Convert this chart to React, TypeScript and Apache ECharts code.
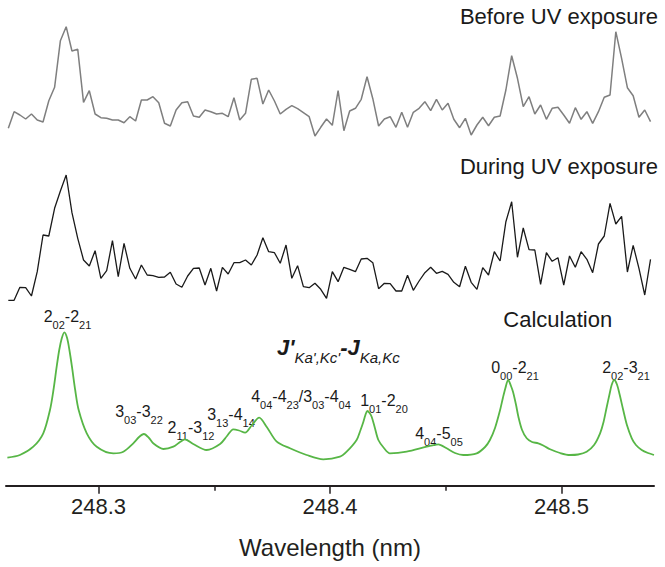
import { useEffect, useRef } from 'react';
import * as echarts from 'echarts';

const FONT = "'Liberation Sans', Arial, Helvetica, sans-serif";
const INK = '#231f20';

// measured spectra: regular wavelength grid
const wavelengthStart = 248.261; // nm
const wavelengthStep = 0.0025; // nm

// intensity (a.u.) before UV exposure
const beforeUV = [
  11.7, 28.3, 25, 21, 26, 20, 18, 39.3, 52.7, 99.3, 113.3, 89, 90.7, 37.7, 49.3, 26,
  22.3, 21.7, 20, 20, 17.3, 23.3, 19, 40, 40, 43.3, 37.3, 16.7, 14, 30, 37.3, 38.3,
  24, 22.7, 30, 28.3, 26, 26.7, 23.3, 42.3, 20, 26.7, 60.7, 61.7, 36, 50, 39, 26,
  30.7, 34.3, 31.3, 27.3, 23.3, 4, 12.7, 21, 14.7, 49.5, 9.3, 29, 31.7, 40.7, 63.3, 41.3,
  14, 21, 23.3, 12.7, 27.7, 12.7, 27.7, 31.7, 38.3, 29.3, 40.7, 30, 36.7, 20.7, 12.3, 21.7,
  5, 15, 22.7, 14.3, 22.7, 24, 50, 84.3, 61.7, 33.3, 43.3, 26, 35, 20.7, 31.7, 32.7,
  25, 16.7, 32.3, 20.7, 28.3, 16.7, 28.3, 42.7, 45, 108.3, 81.7, 52.3, 44.3, 22.7, 30, 18.3,
];

// intensity (a.u.) during UV exposure
const duringUV = [
  4.7, 4.7, 17.7, 17.3, 9, 33.3, 70, 69, 96.7, 114, 130, 92.3, 66.7, 45, 39, 54.3,
  26.7, 34.3, 64.3, 28.3, 61.7, 36.7, 26, 40, 30, 29.3, 27.7, 28, 32.7, 21, 17.7, 29,
  36.7, 37, 20, 36.7, 14, 37.7, 31, 42.3, 42.3, 45, 40, 50, 67.3, 53.3, 52.3, 41.7,
  60, 26.7, 39.3, 18.3, 17.3, 21.7, 15.7, 6.7, 33.3, 23.3, 37.7, 35.7, 33.3, 46, 46.7, 42.3,
  16.3, 21.7, 21.3, 14, 14, 29.7, 14.7, 24, 32.3, 37.7, 31.7, 33.7, 30.7, 22.7, 18.3, 38.7,
  22.7, 15.7, 37.3, 30, 53.3, 44, 83.3, 103.3, 47.7, 77, 55.3, 55, 20.7, 52.3, 43.7, 47.3,
  20, 49, 37.7, 53.3, 45.7, 32.3, 61, 69, 101.7, 81, 88.7, 33, 59.7, 36.7, 10, 45.7,
];

// calculated spectrum (wavelength nm, intensity a.u.)
const calcWavelength = [
  248.2606, 248.266, 248.2718, 248.2761, 248.279, 248.2805, 248.2819, 248.283, 248.2841,
  248.2852, 248.2864, 248.2874, 248.2885, 248.2899, 248.2914, 248.2949, 248.2992, 248.3064,
  248.3107, 248.315, 248.3175, 248.3196, 248.3218, 248.3236, 248.328, 248.3323, 248.3352,
  248.3373, 248.3409, 248.3467, 248.3525, 248.3555, 248.3582, 248.3607, 248.3633, 248.3663,
  248.3694, 248.3726, 248.377, 248.3827, 248.3899, 248.3971, 248.4043, 248.4072, 248.4115,
  248.4132, 248.4144, 248.4153, 248.4161, 248.4171, 248.418, 248.4194, 248.4209, 248.4233,
  248.4259, 248.4331, 248.4418, 248.4468, 248.4504, 248.454, 248.4576, 248.4634, 248.467,
  248.4691, 248.4713, 248.4735, 248.4747, 248.4758, 248.477, 248.4782, 248.4791, 248.4804,
  248.4814, 248.483, 248.485, 248.4873, 248.49, 248.4925, 248.4951, 248.4994, 248.5037,
  248.5072, 248.5109, 248.5141, 248.5167, 248.5182, 248.5196, 248.5208, 248.5217, 248.5228,
  248.524, 248.5251, 248.5267, 248.5283, 248.5304, 248.5322, 248.5347, 248.5374, 248.54,
];
const calcIntensity = [
  2.3, 5, 13.3, 26.7, 50, 70, 93.3, 110, 121.7,
  127.7, 122, 110, 93.3, 70, 50, 26.7, 13.3, 6.7,
  8.3, 16.7, 23, 26, 22, 16.7, 11, 13.3, 18,
  20.7, 16, 10, 16, 24, 30.7, 29.5, 27.3, 35,
  42.3, 33.3, 18.3, 11.7, 5, 0.7, 3.3, 8.3, 20,
  30, 38, 45, 49, 47, 43.3, 32, 20, 12,
  6.7, 8.3, 13.3, 15.7, 11.7, 7, 5, 6.7, 13,
  20, 32, 50, 62, 72, 80, 74, 68, 55,
  43.3, 30, 21.7, 18, 16.7, 14, 10.7, 7, 5,
  5.5, 8.3, 15, 26.7, 38, 53.3, 66, 75, 80,
  75.5, 66, 50, 35, 21.7, 15, 10, 7, 5,
];

const tickValues = [248.3, 248.4, 248.5];
const minorTickValues = [248.35, 248.45];

// transition assignments (rich text: m = main, s = subscript)
const transitionLabels = [
  '{m|2}{s|02}{m|-2}{s|21}',
  '{m|3}{s|03}{m|-3}{s|22}',
  '{m|2}{s|11}{m|-3}{s|12}',
  '{m|3}{s|13}{m|-4}{s|14}',
  '{m|4}{s|04}{m|-4}{s|23}{m|/3}{s|03}{m|-4}{s|04}',
  '{m|1}{s|01}{m|-2}{s|20}',
  '{m|4}{s|04}{m|-5}{s|05}',
  '{m|0}{s|00}{m|-2}{s|21}',
  '{m|2}{s|02}{m|-3}{s|21}',
];
// layout of those labels: [centre x, top y] in px
const transitionLayout = [
  [67.5, 308.2],
  [139, 403.2],
  [191, 419.8],
  [231, 406.5],
  [301, 388.2],
  [384, 392.2],
  [439, 425.8],
  [515, 359.8],
  [626, 359.8],
];

const X_MIN = 248.26;
const X_MAX = 248.54;

export default function App() {
  const ref = useRef<HTMLDivElement>(null);
  useEffect(() => {
    if (!ref.current) return;
    const chart = echarts.init(ref.current, undefined, { renderer: 'svg' });

    const gridBase = { left: 6, right: 11 };
    const hiddenX = (gi: number) => ({
      type: 'value' as const,
      gridIndex: gi,
      min: X_MIN,
      max: X_MAX,
      show: false,
    });
    const richMain = { fontSize: 16, fontFamily: FONT, color: '#1a1a1a', verticalAlign: 'top' };
    const richSub = {
      fontSize: 11,
      fontFamily: FONT,
      color: '#1a1a1a',
      verticalAlign: 'top',
      padding: [11, 0, 0, 0],
    };

    const titleText = (text: string, x: number, y: number, align: string) => ({
      type: 'text',
      x,
      y,
      silent: true,
      style: {
        text,
        fill: '#1a1a1a',
        font: `22px ${FONT}`,
        align,
        textAlign: align,
        verticalAlign: 'middle',
        textVerticalAlign: 'middle',
      },
    });

    const graphics: any[] = [
      titleText('Before UV exposure', 658, 16.4, 'right'),
      titleText('During UV exposure', 658, 166.4, 'right'),
      titleText('Calculation', 557.7, 319.1, 'center'),
      {
        type: 'text',
        x: 277,
        y: 336.4,
        silent: true,
        style: {
          text: "{J|J'}{k|Ka',Kc'}{J|-J}{k|Ka,Kc}",
          fill: '#1a1a1a',
          align: 'left',
          textAlign: 'left',
          verticalAlign: 'top',
          textVerticalAlign: 'top',
          rich: {
            J: {
              fontSize: 22,
              fontFamily: FONT,
              fontWeight: 'bold',
              fontStyle: 'italic',
              color: '#1a1a1a',
              verticalAlign: 'top',
            },
            k: {
              fontSize: 15,
              fontFamily: FONT,
              fontStyle: 'italic',
              color: '#1a1a1a',
              verticalAlign: 'top',
              padding: [14, 0, 0, 0],
            },
          },
        },
      },
      ...transitionLabels.map((t, i) => ({
        type: 'text',
        x: transitionLayout[i][0],
        y: transitionLayout[i][1],
        silent: true,
        style: {
          text: t,
          fill: '#1a1a1a',
          align: 'center',
          textAlign: 'center',
          verticalAlign: 'top',
          textVerticalAlign: 'top',
          rich: { m: richMain, s: richSub },
        },
      })),
    ];

    chart.setOption({
      animation: false,
      backgroundColor: '#ffffff',
      grid: [
        { ...gridBase, top: 20, height: 120 },
        { ...gridBase, top: 165, height: 140 },
        { ...gridBase, top: 320, height: 140 },
      ],
      xAxis: [
        hiddenX(0),
        hiddenX(1),
        {
          type: 'value',
          gridIndex: 2,
          position: 'bottom',
          min: X_MIN,
          max: X_MAX,
          offset: 25.7,
          axisLine: { show: true, onZero: false, lineStyle: { color: INK, width: 2 } },
          axisTick: {
            show: true,
            customValues: tickValues,
            length: 8,
            lineStyle: { color: INK, width: 1.5 },
          },
          axisLabel: {
            show: true,
            customValues: tickValues,
            fontSize: 22,
            fontFamily: FONT,
            color: INK,
            margin: 10,
            formatter: (v: number) => v.toFixed(1),
          },
          splitLine: { show: false },
          name: 'Wavelength (nm)',
          nameLocation: 'middle',
          nameGap: 50,
          nameTextStyle: { fontSize: 24, fontFamily: FONT, color: INK },
        },
        {
          type: 'value',
          gridIndex: 2,
          position: 'bottom',
          min: X_MIN,
          max: X_MAX,
          offset: 25.7,
          axisLine: { show: false, onZero: false },
          axisTick: {
            show: true,
            customValues: minorTickValues,
            length: 5,
            lineStyle: { color: INK, width: 1.5 },
          },
          axisLabel: { show: false },
          splitLine: { show: false },
        },
      ],
      yAxis: [
        { type: 'value', gridIndex: 0, min: 0, max: 120, show: false },
        { type: 'value', gridIndex: 1, min: 0, max: 140, show: false },
        { type: 'value', gridIndex: 2, min: 0, max: 140, show: false },
      ],
      series: [
        {
          name: 'Before UV exposure',
          type: 'line',
          xAxisIndex: 0,
          yAxisIndex: 0,
          showSymbol: false,
          data: beforeUV.map((v, i) => [wavelengthStart + i * wavelengthStep, v]),
          lineStyle: { color: '#7f7f7f', width: 1.5 },
        },
        {
          name: 'During UV exposure',
          type: 'line',
          xAxisIndex: 1,
          yAxisIndex: 1,
          showSymbol: false,
          data: duringUV.map((v, i) => [wavelengthStart + i * wavelengthStep, v]),
          lineStyle: { color: '#1a1a1a', width: 1.3 },
        },
        {
          name: 'Calculation',
          type: 'line',
          xAxisIndex: 2,
          yAxisIndex: 2,
          showSymbol: false,
          smooth: 0.3,
          data: calcWavelength.map((w, i) => [w, calcIntensity[i]]),
          lineStyle: { color: '#57b646', width: 1.8 },
        },
      ],
      graphic: graphics,
    });

    return () => chart.dispose();
  }, []);

  return (
    <div
      ref={ref}
      style={{ position: 'absolute', left: 0, top: 0, width: 665, height: 567, background: '#fff' }}
    />
  );
}
